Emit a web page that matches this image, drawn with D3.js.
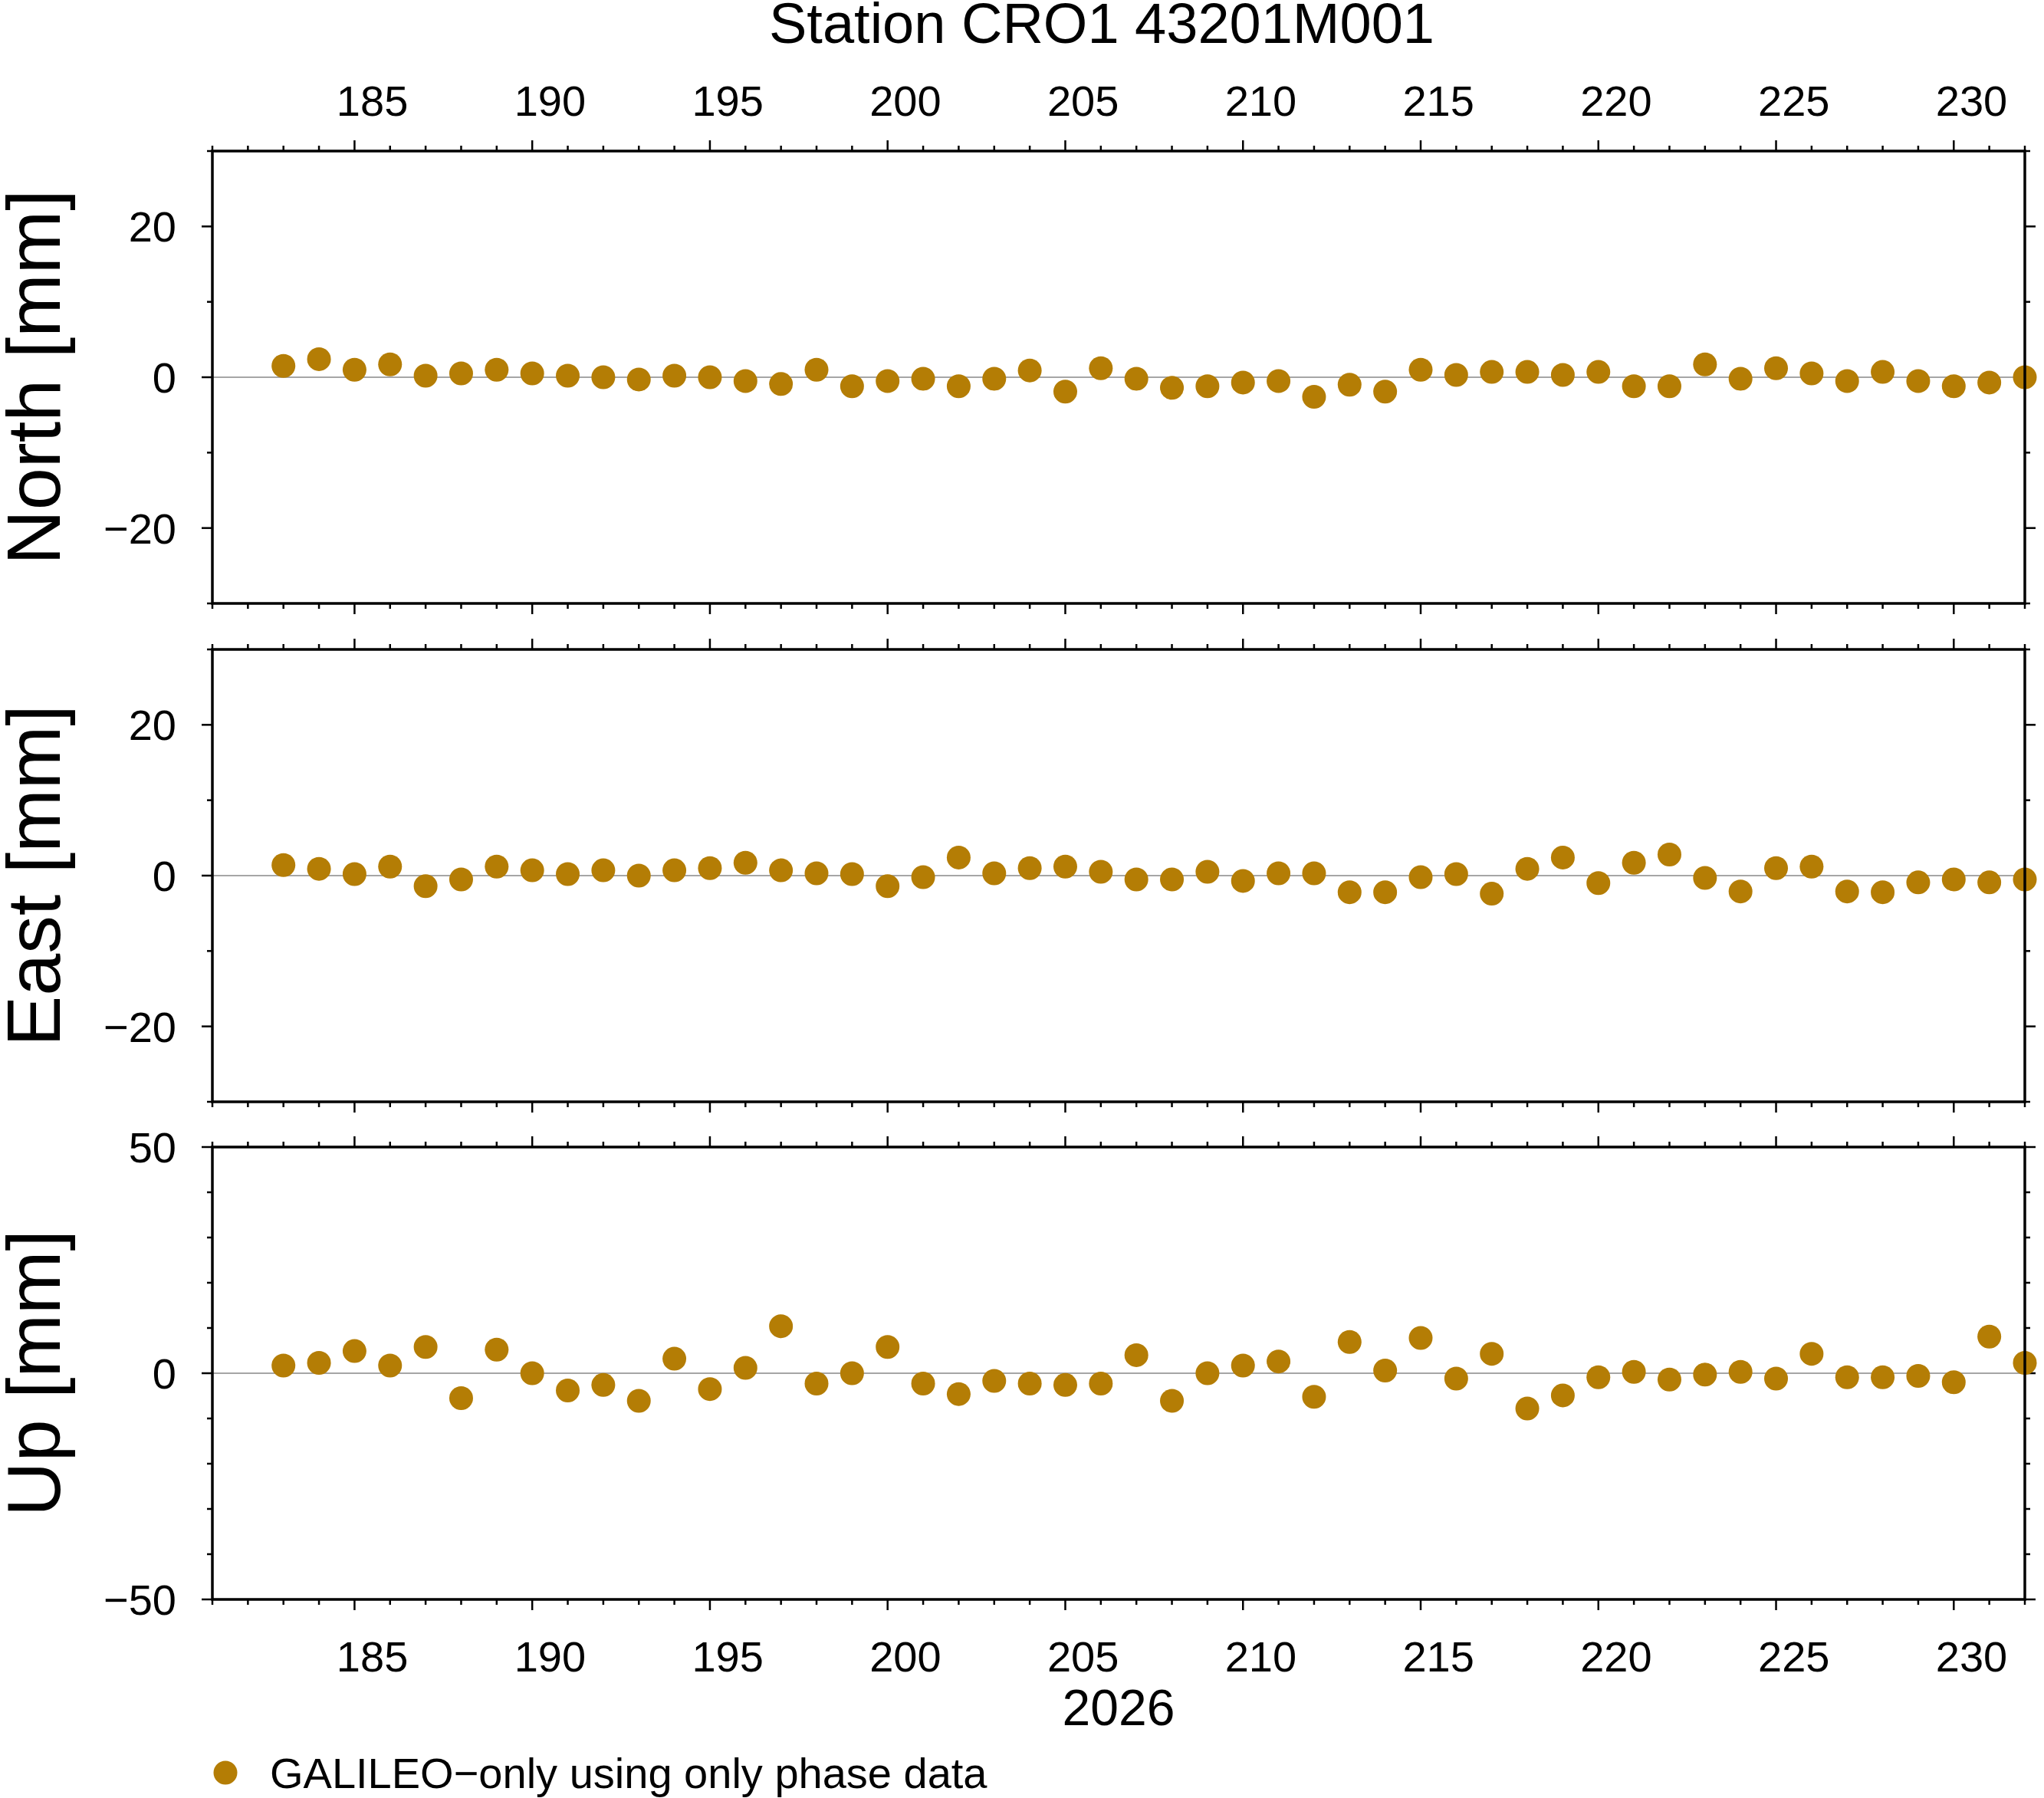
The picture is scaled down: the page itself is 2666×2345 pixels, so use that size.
<!DOCTYPE html>
<html><head><meta charset="utf-8">
<script src="https://cdn.jsdelivr.net/npm/d3@7"></script>
<style>body{margin:0;background:#fff}text{font-family:"Liberation Sans",Arial,sans-serif}</style>
</head><body><svg id="c" width="2666" height="2345"></svg>
<script>
const days = d3.range(183, 233);
const north = [1.5,2.4,1.0,1.7,0.2,0.5,1.0,0.5,0.2,0,-0.3,0.2,0,-0.5,-0.9,1.0,-1.2,-0.5,-0.2,-1.2,-0.2,0.9,-1.9,1.2,-0.2,-1.4,-1.2,-0.7,-0.5,-2.6,-1.0,-1.9,1.0,0.3,0.7,0.7,0.3,0.7,-1.2,-1.2,1.7,-0.2,1.2,0.5,-0.5,0.7,-0.5,-1.2,-0.7,0];
const east = [1.4,0.9,0.2,1.2,-1.4,-0.5,1.2,0.7,0.2,0.7,0,0.7,1.0,1.7,0.7,0.3,0.2,-1.4,-0.2,2.4,0.3,1.0,1.2,0.5,-0.5,-0.5,0.5,-0.7,0.3,0.3,-2.2,-2.2,-0.2,0.2,-2.4,0.9,2.4,-1.0,1.7,2.8,-0.3,-2.1,1.0,1.2,-2.1,-2.2,-0.9,-0.5,-0.9,-0.5];
const up = [1.7,2.3,4.9,1.7,5.8,-5.5,5.2,0,-3.8,-2.6,-6.1,3.2,-3.5,1.2,10.4,-2.3,0,5.8,-2.3,-4.6,-1.7,-2.3,-2.6,-2.3,4.0,-6.1,0,1.7,2.6,-5.2,6.9,0.6,7.8,-1.2,4.3,-7.8,-4.9,-0.9,0.3,-1.4,-0.3,0.3,-1.2,4.3,-0.9,-0.9,-0.6,-2.0,8.1,2.3];
const xTicks = [185,190,195,200,205,210,215,220,225,230];
const panels = [
 {name:"North [mm]", data:north, dom:[-30,30], major:[-20,0,20], minor:d3.range(-30,31,10)},
 {name:"East [mm]", data:east, dom:[-30,30], major:[-20,0,20], minor:d3.range(-30,31,10)},
 {name:"Up [mm]", data:up, dom:[-50,50], major:[-50,0,50], minor:d3.range(-50,51,10)}
];
const svg = d3.select("#c");
const L=277,R=2641,H=590,tops=[197,847,1496];
const x = d3.scaleLinear().domain([181,232]).range([L,R]);
const col="#b47d05";
svg.append("text").attr("x",1437).attr("y",56).attr("text-anchor","middle").attr("font-size",74).text("Station CRO1 43201M001");
panels.forEach((p,i)=>{
  const t=tops[i];
  const y=d3.scaleLinear().domain(p.dom).range([t+H,t]);
  const g=svg.append("g");
  g.append("line").attr("x1",L).attr("x2",R).attr("y1",y(0)).attr("y2",y(0)).attr("stroke","#888").attr("stroke-width",1.5);
  d3.range(181,233).forEach(d=>{
    const len = d%5===0?14:7;
    [[t,-1],[t+H,1]].forEach(([yy,s])=>g.append("line").attr("x1",x(d)).attr("x2",x(d)).attr("y1",yy).attr("y2",yy+s*len).attr("stroke","#000").attr("stroke-width",2.5));
  });
  p.minor.forEach(v=>{
    const len = p.major.includes(v)?14:7;
    [[L,-1],[R,1]].forEach(([xx,s])=>g.append("line").attr("y1",y(v)).attr("y2",y(v)).attr("x1",xx).attr("x2",xx+s*len).attr("stroke","#000").attr("stroke-width",2.5));
  });
  p.major.forEach(v=>g.append("text").attr("x",230).attr("y",y(v)+20).attr("text-anchor","end").attr("font-size",56).text(v<0?"\u2212"+Math.abs(v):v));
  g.append("text").attr("transform",`translate(78,${t+H/2}) rotate(-90)`).attr("text-anchor","middle").attr("font-size",99).text(p.name);
  g.selectAll("circle.d").data(p.data).join("circle").attr("cx",(d,j)=>x(days[j])).attr("cy",d=>y(d)).attr("r",15.5).attr("fill",col);
  g.append("rect").attr("x",L).attr("y",t).attr("width",R-L).attr("height",H).attr("fill","none").attr("stroke","#000").attr("stroke-width",3.5);
});
xTicks.forEach(d=>{
  svg.append("text").attr("x",x(d+0.5)).attr("y",151).attr("text-anchor","middle").attr("font-size",56).text(d);
  svg.append("text").attr("x",x(d+0.5)).attr("y",2180).attr("text-anchor","middle").attr("font-size",56).text(d);
});
svg.append("text").attr("x",1459).attr("y",2250).attr("text-anchor","middle").attr("font-size",66).text("2026");
svg.append("circle").attr("cx",294).attr("cy",2312).attr("r",15.5).attr("fill",col);
svg.append("text").attr("x",352).attr("y",2332).attr("font-size",56).text("GALILEO\u2212only using only phase data");
</script></body></html>
